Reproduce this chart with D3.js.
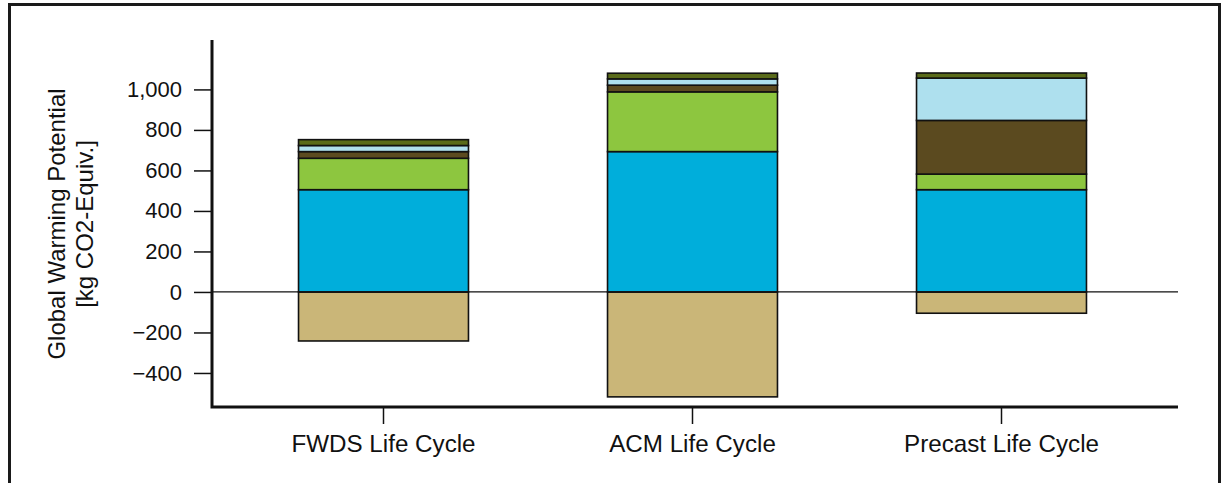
<!DOCTYPE html>
<html>
<head>
<meta charset="utf-8">
<script src="https://cdn.jsdelivr.net/npm/d3@7"></script>
<style>
  body { margin: 0; background: #fff; }
  svg { display: block; font-family: "Liberation Sans", Arial, Helvetica, sans-serif; }
</style>
</head>
<body>
<svg id="chart" width="1222" height="483"></svg>
<script>
// categories along the x axis
const categories = ["FWDS Life Cycle", "ACM Life Cycle", "Precast Life Cycle"];

// positive stack segments, bottom to top
const seriesKeys = ["s1", "s2", "s3", "s4", "s5"];
const s1 = [505, 693, 505];
const s2 = [155, 295, 77];
const s3 = [33, 33, 265];
const s4 = [30, 31, 209];
const s5 = [29, 28, 25];
// negative segment (credits)
const negative = [-242, -518, -105];

const seriesColors = ["#00aedb", "#8dc63f", "#5b4a1f", "#aee0ee", "#5a6b1a"];
const negColor = "#cab678";

const yTicks = [-400, -200, 0, 200, 400, 600, 800, 1000];

const svg = d3.select("#chart");

// outer frame
svg.append("path")
  .attr("d", "M9.5,490 V4.5 H1219.5 V490")
  .attr("fill", "none")
  .attr("stroke", "#1a1a1a")
  .attr("stroke-width", 3);

const x = d3.scaleBand()
  .domain(categories)
  .range([229, 1156])
  .paddingInner(0.45)
  .paddingOuter(0.225);

const y = d3.scaleLinear()
  .domain([-568, 1244])
  .range([407, 40]);

// build stacked table
const table = categories.map((c, i) => ({
  cat: c, s1: s1[i], s2: s2[i], s3: s3[i], s4: s4[i], s5: s5[i]
}));
const stacked = d3.stack().keys(seriesKeys)(table);

// negative bars
svg.append("g").selectAll("rect")
  .data(categories)
  .join("rect")
  .attr("x", d => x(d))
  .attr("width", x.bandwidth())
  .attr("y", y(0))
  .attr("height", (d, i) => y(negative[i]) - y(0))
  .attr("fill", negColor)
  .attr("stroke", "#111")
  .attr("stroke-width", 1.6);

// positive stacks
svg.append("g").selectAll("g")
  .data(stacked)
  .join("g")
  .attr("fill", (d, i) => seriesColors[i])
  .selectAll("rect")
  .data(d => d)
  .join("rect")
  .attr("x", d => x(d.data.cat))
  .attr("width", x.bandwidth())
  .attr("y", d => y(d[1]))
  .attr("height", d => y(d[0]) - y(d[1]))
  .attr("stroke", "#111")
  .attr("stroke-width", 1.6);

// zero line
svg.append("line")
  .attr("x1", 212).attr("x2", 1178)
  .attr("y1", y(0)).attr("y2", y(0))
  .attr("stroke", "#111")
  .attr("stroke-width", 1.2);

// y axis
const yAxis = svg.append("g")
  .attr("transform", "translate(212,0)")
  .call(d3.axisLeft(y).tickValues(yTicks).tickSize(18).tickPadding(12)
    .tickFormat(d3.format(",")));
yAxis.select(".domain").remove();
yAxis.selectAll(".tick line").attr("stroke", "#111").attr("stroke-width", 1.5);
yAxis.selectAll(".tick text")
  .attr("font-size", 22)
  .attr("fill", "#111")
  .attr("font-family", "Liberation Sans, Arial, sans-serif");

// x axis
const xAxis = svg.append("g")
  .attr("transform", "translate(0,407)")
  .call(d3.axisBottom(x).tickSize(17).tickPadding(0));
xAxis.select(".domain").remove();
xAxis.selectAll(".tick line").attr("stroke", "#111").attr("stroke-width", 1.5);
xAxis.selectAll(".tick text")
  .attr("font-size", 24.2)
  .attr("fill", "#111")
  .attr("dy", null)
  .attr("y", 45)
  .attr("font-family", "Liberation Sans, Arial, sans-serif");

// heavy axis lines
svg.append("path")
  .attr("d", "M212,40 V407 H1178")
  .attr("fill", "none")
  .attr("stroke", "#111")
  .attr("stroke-width", 3);

// y axis title
const title = svg.append("text")
  .attr("transform", "translate(0,224) rotate(-90)")
  .attr("text-anchor", "middle")
  .attr("font-size", 24)
  .attr("fill", "#111");
title.append("tspan").attr("x", 0).attr("y", 65).text("Global Warming Potential");
title.append("tspan").attr("x", 0).attr("y", 93).text("[kg CO2-Equiv.]");
</script>
</body>
</html>
